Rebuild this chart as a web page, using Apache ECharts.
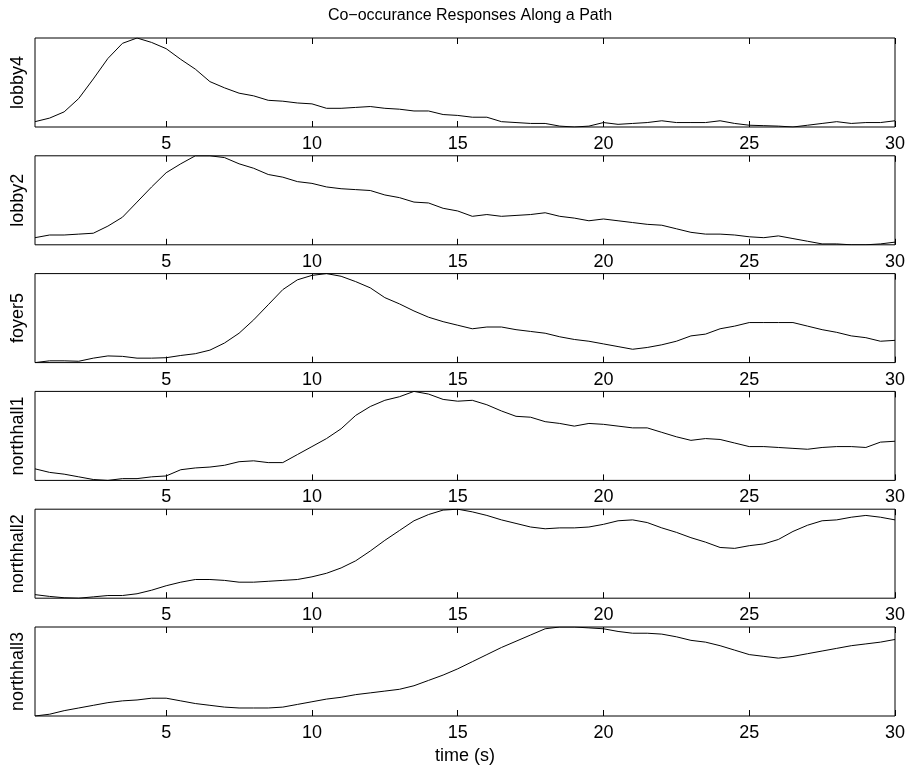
<!DOCTYPE html>
<html>
<head>
<meta charset="utf-8">
<script src="https://cdn.jsdelivr.net/npm/echarts@6/dist/echarts.min.js"></script>
<style>
  html, body { margin: 0; padding: 0; background: #fff; }
  #chart { width: 910px; height: 769px; }
</style>
</head>
<body>
<div id="chart"></div>
<script>
// sample times (s)
const times = [0.5,1,1.5,2,2.5,3,3.5,4,4.5,5,5.5,6,6.5,7,7.5,8,8.5,9,9.5,10,
  10.5,11,11.5,12,12.5,13,13.5,14,14.5,15,15.5,16,16.5,17,17.5,18,18.5,19,19.5,20,
  20.5,21,21.5,22,22.5,23,23.5,24,24.5,25,25.5,26,26.5,27,27.5,28,28.5,29,29.5,30]
const tickValues = [5,10,15,20,25,30]
const names = ['lobby4','lobby2','foyer5','northhall1','northhall2','northhall3']

// normalised responses
const lobby4 = [0.06,0.10,0.17,0.32,0.54,0.77,0.94,1.0,0.95,0.88,0.76,0.65,0.51,0.44,0.38,0.35,0.30,0.29,0.27,0.26,
  0.21,0.21,0.22,0.23,0.21,0.20,0.18,0.18,0.14,0.13,0.11,0.11,0.06,0.05,0.04,0.04,0.01,0.0,0.01,0.05,
  0.03,0.04,0.05,0.07,0.05,0.05,0.05,0.07,0.04,0.02,0.015,0.01,0.0,0.02,0.04,0.06,0.04,0.05,0.05,0.07]
const lobby2 = [0.08,0.11,0.11,0.12,0.13,0.21,0.31,0.48,0.65,0.81,0.91,1.0,1.0,0.98,0.91,0.86,0.79,0.76,0.71,0.69,
  0.65,0.63,0.62,0.61,0.56,0.53,0.48,0.47,0.41,0.38,0.32,0.34,0.32,0.33,0.34,0.36,0.32,0.30,0.27,0.29,
  0.27,0.25,0.23,0.22,0.18,0.14,0.12,0.12,0.11,0.09,0.08,0.10,0.07,0.04,0.01,0.01,0.0,0.0,0.01,0.03]
const foyer5 = [0.0,0.02,0.02,0.015,0.05,0.075,0.07,0.05,0.05,0.055,0.08,0.10,0.14,0.22,0.33,0.48,0.65,0.82,0.93,0.98,
  1.0,0.97,0.91,0.84,0.73,0.66,0.58,0.51,0.46,0.42,0.38,0.40,0.40,0.37,0.35,0.33,0.29,0.26,0.24,0.21,
  0.18,0.15,0.17,0.20,0.24,0.30,0.32,0.38,0.41,0.45,0.45,0.45,0.45,0.41,0.37,0.34,0.30,0.28,0.24,0.25]
const northhall1 = [0.13,0.09,0.07,0.04,0.01,0.0,0.02,0.02,0.04,0.05,0.12,0.14,0.15,0.17,0.21,0.22,0.20,0.20,0.29,0.38,
  0.47,0.58,0.73,0.83,0.90,0.94,1.0,0.97,0.91,0.89,0.90,0.85,0.78,0.72,0.71,0.66,0.64,0.61,0.64,0.63,
  0.61,0.59,0.59,0.54,0.49,0.45,0.47,0.46,0.42,0.38,0.38,0.37,0.36,0.35,0.37,0.38,0.38,0.37,0.43,0.44]
const northhall2 = [0.04,0.02,0.005,0.0,0.015,0.03,0.03,0.05,0.09,0.14,0.18,0.21,0.21,0.20,0.18,0.18,0.19,0.20,0.21,0.24,
  0.28,0.34,0.42,0.53,0.65,0.76,0.87,0.94,0.99,1.0,0.97,0.93,0.88,0.84,0.80,0.78,0.79,0.79,0.80,0.83,
  0.87,0.88,0.85,0.79,0.74,0.68,0.63,0.57,0.56,0.59,0.61,0.66,0.75,0.82,0.87,0.88,0.91,0.93,0.91,0.88]
const northhall3 = [0.0,0.02,0.06,0.09,0.12,0.15,0.17,0.18,0.20,0.20,0.17,0.14,0.12,0.10,0.09,0.09,0.09,0.10,0.13,0.16,
  0.19,0.21,0.24,0.26,0.28,0.30,0.34,0.40,0.46,0.53,0.61,0.69,0.77,0.84,0.91,0.98,1.0,1.0,0.99,0.98,
  0.95,0.93,0.93,0.92,0.89,0.85,0.83,0.79,0.74,0.69,0.67,0.65,0.67,0.70,0.73,0.76,0.79,0.81,0.83,0.86]
const seriesData = [lobby4, lobby2, foyer5, northhall1, northhall2, northhall3]

const font = 'Liberation Sans, Arial, Helvetica, sans-serif'
const grids = [], xAxes = [], yAxes = [], series = []
names.forEach((name, i) => {
  grids.push({
    left: 35, right: 15, top: 38 + i * 117.8, height: 89,
    show: true, borderColor: '#000', borderWidth: 1, backgroundColor: 'transparent'
  })
  // bottom axis with labels
  xAxes.push({
    type: 'value', gridIndex: i, position: 'bottom', min: 0.5, max: 30,
    axisLine: {show: false},
    axisTick: {show: true, inside: true, length: 6, customValues: tickValues, lineStyle: {color: '#000'}},
    axisLabel: {show: true, customValues: tickValues, color: '#000', fontSize: 18, fontFamily: font, margin: 8},
    splitLine: {show: false},
    name: i === names.length - 1 ? 'time (s)' : '',
    nameLocation: 'middle', nameGap: 31,
    nameTextStyle: {color: '#000', fontSize: 18, fontFamily: font}
  })
  // top axis, ticks only
  xAxes.push({
    type: 'value', gridIndex: i, position: 'top', min: 0.5, max: 30,
    axisLine: {show: false},
    axisTick: {show: true, inside: true, length: 6, customValues: tickValues, lineStyle: {color: '#000'}},
    axisLabel: {show: false},
    splitLine: {show: false}
  })
  yAxes.push({
    type: 'value', gridIndex: i, min: 0, max: 1,
    axisLine: {show: false}, axisTick: {show: false}, axisLabel: {show: false}, splitLine: {show: false},
    name: name, nameLocation: 'middle', nameGap: 8,
    nameTextStyle: {color: '#000', fontSize: 18, fontFamily: font}
  })
  series.push({
    type: 'line', xAxisIndex: i * 2, yAxisIndex: i,
    data: times.map((t, k) => [t, seriesData[i][k]]),
    showSymbol: false, silent: true,
    lineStyle: {color: '#000', width: 1}
  })
})

let option = {
  backgroundColor: '#fff',
  animation: false,
  title: {
    text: 'Co\u2212occurance Responses Along a Path',
    left: 465, top: 3, textAlign: 'center',
    textStyle: {color: '#000', fontSize: 16, fontWeight: 'normal', fontFamily: font}
  },
  grid: grids,
  xAxis: xAxes,
  yAxis: yAxes,
  series: series
}
let chart = echarts.init(document.getElementById('chart'))
chart.setOption(option)
</script>
</body>
</html>
